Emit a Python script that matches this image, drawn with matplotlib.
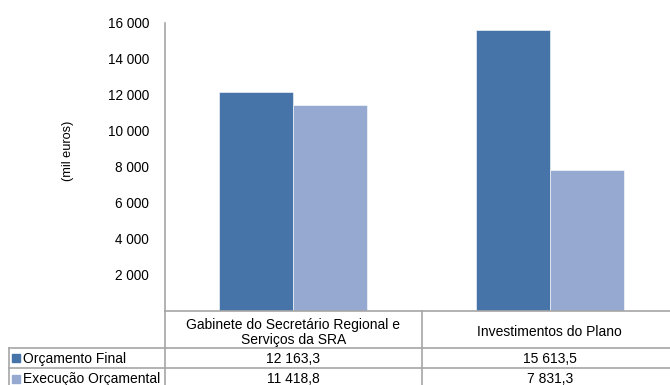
import matplotlib
matplotlib.use("Agg")
import matplotlib.pyplot as plt
import numpy as np

plt.rcParams['font.family'] = ['Liberation Sans', 'DejaVu Sans']

categories = ["Gabinete do Secretário Regional e\nServiços da SRA", "Investimentos do Plano"]
series_names = ["Orçamento Final", "Execução Orçamental"]
orcamento_final = [12163.3, 15613.5]
execucao_orcamental = [11418.8, 7831.3]
yticks = [2000, 4000, 6000, 8000, 10000, 12000, 14000, 16000]
colors = ["#4673A8", "#96AAD1"]
grid_color = "#A6A6A6"

W, H = 670, 385
fig = plt.figure(figsize=(W / 100, H / 100), dpi=100)

# plot area in pixel units
left_px, right_px, top_px, base_px = 165, 678, 23, 311
ax = fig.add_axes([left_px / W, 1 - base_px / H,
                   (right_px - left_px) / W, (base_px - top_px) / H])

x = np.arange(len(categories))
bw = 0.288
series = [orcamento_final, execucao_orcamental]
for i, vals in enumerate(series):
    ax.bar(x + (i - 0.5) * bw, vals, width=bw, color=colors[i],
           edgecolor="white", linewidth=0.4, zorder=2)

ax.set_xlim(-0.5, len(categories) - 0.5)
ax.set_ylim(0, 16000)
ax.set_yticks(yticks)
ax.set_yticklabels([f"{v:,}".replace(",", " ") for v in yticks], fontsize=9.8)
ax.set_xticks([])
ax.tick_params(axis='y', length=0, pad=11.5)
for s in ("top", "right"):
    ax.spines[s].set_visible(False)
for s in ("left", "bottom"):
    ax.spines[s].set_color(grid_color)
    ax.spines[s].set_linewidth(1.2)
ax.set_ylabel("(mil euros)", fontsize=9.2, va="center")
ax.yaxis.set_label_coords((68 - left_px) / (right_px - left_px),
                          (base_px - 151) / (base_px - top_px))

# data table below the plot, drawn in pixel coordinates
tax = fig.add_axes([0, 0, 1, 1], zorder=3)
tax.set_xlim(0, W)
tax.set_ylim(H, 0)
tax.axis("off")

def data_to_px(xv):
    disp = ax.transData.transform((xv, 0))
    return tax.transData.inverted().transform(disp)[0]

col_edges = [data_to_px(v) for v in np.arange(len(categories) + 1) - 0.5]
label_left = 9
header_bottom = 347.5
row_h = 20.5
row_tops = [header_bottom + i * row_h for i in range(len(series_names) + 1)]

lw = 1.2
fs = 10
# horizontal rules
for yv in row_tops:
    tax.plot([label_left, W], [yv, yv], color=grid_color, lw=lw, clip_on=False)
# vertical rules
tax.plot([label_left, label_left], [header_bottom, H + 5], color=grid_color, lw=lw)
for xe in col_edges[:-1]:
    tax.plot([xe, xe], [base_px, H + 5], color=grid_color, lw=lw)

# header cells
for j, cat in enumerate(categories):
    cx = (col_edges[j] + col_edges[j + 1]) / 2
    tax.text(cx, 332.5, cat, ha="center", va="center",
             fontsize=fs, linespacing=1.15)

# value rows with legend keys
for i, (name, vals) in enumerate(zip(series_names, series)):
    cy = row_tops[i] + row_h / 2 + 1
    tax.add_patch(plt.Rectangle((12, cy - 4.5), 8, 8, color=colors[i]))
    tax.text(23, cy, name, ha="left", va="center", fontsize=fs)
    for j, v in enumerate(vals):
        cx = (col_edges[j] + col_edges[j + 1]) / 2
        txt = f"{v:,.1f}".replace(",", " ").replace(".", ",")
        tax.text(cx, cy, txt, ha="center", va="center", fontsize=fs)

fig.savefig("out.png", dpi=100)
